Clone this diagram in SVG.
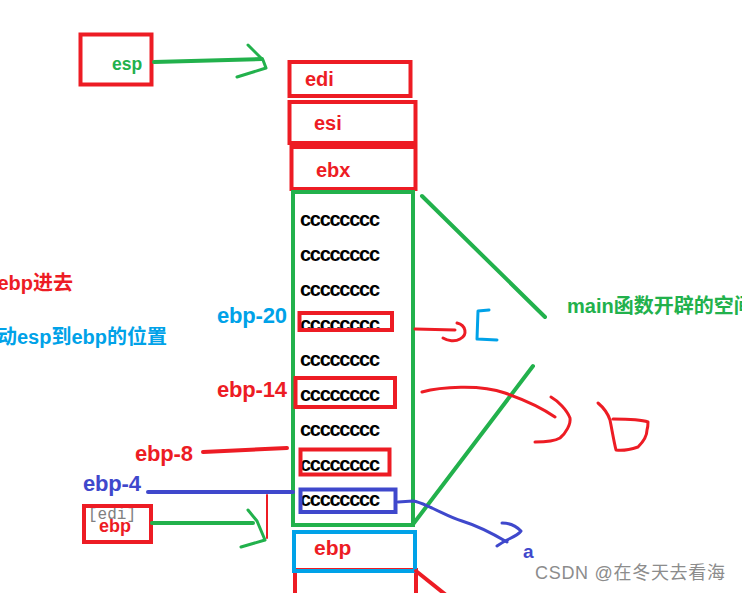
<svg xmlns="http://www.w3.org/2000/svg" width="742" height="593" viewBox="0 0 742 593">
<style>
text{font-family:"Liberation Sans","Noto Sans CJK SC",sans-serif;font-weight:bold}
.r{fill:#ed1c24}.g{fill:#22b14c}.b{fill:#00a2e8}.i{fill:#3f48cc}
.box{fill:none;stroke-width:4}
.rb{stroke:#ed1c24}.gb{stroke:#22b14c}.bb{stroke:#00a2e8}.ib{stroke:#3f48cc}
.ln{fill:none;stroke-linecap:round;stroke-linejoin:round}
.c{font-size:20px;fill:#000}
.lab{font-size:22px}
</style>
<rect width="742" height="593" fill="#fff"/>

<g id="notes">
<text class="r" x="73" y="290" font-size="20" text-anchor="end">ebp进去</text>
<text class="b" x="167" y="344" font-size="20" text-anchor="end">动esp到ebp的位置</text>
<text class="g" x="567" y="313" font-size="20">main函数开辟的空间</text>
</g>

<g id="esp">
<rect class="box rb" x="80.5" y="34.5" width="71" height="50"/>
<text class="g" x="112" y="70" font-size="17.5">esp</text>
</g>

<g id="ebp-small">
<text x="88" y="519" font-size="16" fill="#808080" style="font-weight:normal;font-family:'Liberation Mono',monospace">[edi]</text>
<rect class="box rb" x="84" y="506" width="67" height="36"/>
<text class="r" x="99" y="532" font-size="18">ebp</text>
</g>

<g id="edi">
<rect class="box rb" x="289.5" y="62" width="121" height="34"/>
<text class="r" x="305" y="86" font-size="20">edi</text>
</g>
<g id="esi">
<rect class="box rb" x="289.5" y="102" width="126" height="41"/>
<text class="r" x="314" y="130" font-size="20">esi</text>
</g>
<g id="ebx">
<rect class="box rb" x="291.5" y="147" width="124" height="42"/>
<text class="r" x="316" y="177" font-size="20">ebx</text>
</g>

<g id="main-frame">
<rect class="box gb" x="293" y="192" width="120" height="333"/>
<text class="c" x="300" y="226" textLength="80">cccccccc</text>
<text class="c" x="300" y="261" textLength="80">cccccccc</text>
<text class="c" x="300" y="296" textLength="80">cccccccc</text>
<text class="c" x="300" y="331" textLength="80">cccccccc</text>
<text class="c" x="300" y="366" textLength="80">cccccccc</text>
<text class="c" x="300" y="401" textLength="80">cccccccc</text>
<text class="c" x="300" y="436" textLength="80">cccccccc</text>
<text class="c" x="300" y="471" textLength="80">cccccccc</text>
<text class="c" x="300" y="506" textLength="80">cccccccc</text>
</g>

<g id="ebp-20">
<rect class="box rb" x="299.5" y="313" width="92.5" height="17"/>
<text class="b lab" x="217" y="323" textLength="70">ebp-20</text>
</g>
<g id="ebp-14">
<rect class="box rb" x="295.5" y="378" width="99.5" height="29"/>
<text class="r lab" x="217" y="397" textLength="70">ebp-14</text>
</g>
<g id="ebp-8">
<rect class="box rb" x="300.5" y="449.5" width="89" height="25"/>
<text class="r lab" x="135" y="461" textLength="58">ebp-8</text>
</g>
<g id="ebp-4">
<rect class="box ib" x="300.5" y="489.5" width="95" height="22.5"/>
<text class="i lab" x="83" y="491" textLength="58">ebp-4</text>
</g>

<g id="ebp-slot">
<rect class="box rb" x="295" y="570" width="121" height="40"/>
<rect class="box bb" x="294" y="532" width="121" height="39"/>
<text class="r" x="314" y="555" font-size="21">ebp</text>
</g>

<g id="marks">
<text class="i" x="523" y="558" font-size="19">a</text>
</g>

<g id="connectors">
<path class="ln gb" stroke-width="4" d="M154,62 L262,59"/>
<path class="ln gb" stroke-width="3" d="M248,45 L263,60 L266,68 L237,77"/>
<path class="ln gb" stroke-width="4" d="M152,523 L253,523"/>
<path class="ln gb" stroke-width="3" d="M248,510 L257,521 L265,540 L241,547"/>
<path class="ln rb" stroke-width="4" d="M203,452 L287,448"/>
<path class="ln ib" stroke-width="4" d="M148,492 L293,492"/>
<path class="ln rb" stroke-width="2" d="M267,495 L267,538"/>
<path class="ln gb" stroke-width="4" d="M422,196 L545,317"/>
<path class="ln gb" stroke-width="4" d="M533,366 L414,523"/>
<path class="ln rb" stroke-width="4" d="M416,571 L446,595"/>
<path class="ln rb" stroke-width="3" d="M415,329 L455,330 M457,323 C466,325 468,335 460,339 C455,342 448,341 443,338"/>
<path class="ln bb" stroke-width="3" d="M489,310 L478,311 L477,339 L497,340"/>
<path class="ln rb" stroke-width="3" d="M422,392 C440,387 480,384 505,393 C525,400 545,410 555,417"/>
<path class="ln rb" stroke-width="3" d="M551,397 C558,401 567,410 570,418 C571,424 566,433 560,438 C555,441 545,442 535,442"/>
<path class="ln rb" stroke-width="3" d="M598,403 C604,408 608,414 610,420 C612,430 614,442 616,450 C623,451 632,449 638,447 C643,442 647,436 647,430 C648,427 648,424 648,422 C640,419 625,419 613,419"/>
<path class="ln ib" stroke-width="3" d="M398,502 L413,501 C420,502 425,505 432,508 C445,514 452,518 462,521 C475,525 490,532 507,542"/>
<path class="ln ib" stroke-width="3" d="M502,523 C508,523 515,525 521,531 C518,535 513,537 507,540 C503,542 500,544 497,546"/>
</g>

<text x="535" y="579" font-size="18" textLength="190" fill="#8c8c8c" style="font-weight:normal" stroke="#fff" stroke-width="0.6" paint-order="stroke">CSDN @在冬天去看海</text>
</svg>
